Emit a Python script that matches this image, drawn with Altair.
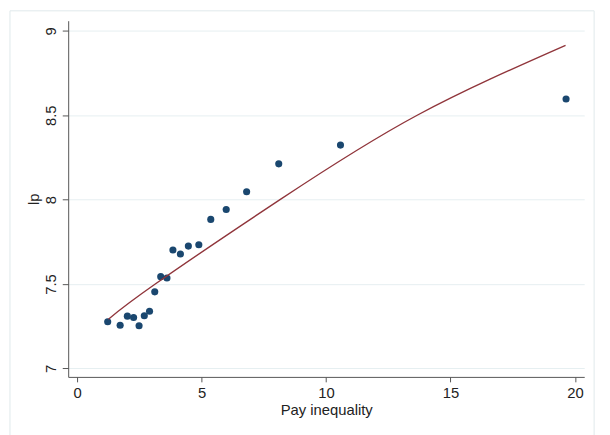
import altair as alt
import pandas as pd

# Scatter data
pay_inequality = [1.23, 1.73, 2.02, 2.27, 2.49, 2.70, 2.91, 3.12, 3.36, 3.61,
                  3.85, 4.15, 4.47, 4.89, 5.37, 5.99, 6.81, 8.10, 10.58, 19.64]
lp = [7.277, 7.256, 7.310, 7.302, 7.253, 7.312, 7.339, 7.454, 7.544, 7.536,
      7.702, 7.678, 7.725, 7.733, 7.883, 7.942, 8.047, 8.212, 8.323, 8.596]

# Fitted curve (end points and gridline crossings)
fit_x = [1.26, 3.14, 8.15, 13.66, 19.62]
fit_y = [7.292, 7.5, 8.0, 8.5, 8.914]

x_ticks = [0, 5, 10, 15, 20]
y_ticks = [7, 7.5, 8, 8.5, 9]

pts = pd.DataFrame({"x": pay_inequality, "y": lp})
fit = pd.DataFrame({"x": fit_x, "y": fit_y})

FONT = "Liberation Sans"

xscale = alt.Scale(domain=[-0.357, 20.37], nice=False, zero=False)
yscale = alt.Scale(domain=[6.95, 9.06], nice=False, zero=False)

xaxis = alt.Axis(values=x_ticks, title="Pay inequality", grid=False,
                 labelFontSize=15, titleFontSize=15, labelFont=FONT, titleFont=FONT,
                 labelColor="#222", titleColor="#222", titleFontWeight="normal",
                 domainColor="#555", tickColor="#555", tickSize=5, labelPadding=4,
                 titlePadding=2, labelFlush=False, format="d")
yaxis = alt.Axis(values=y_ticks, title="lp", grid=True, gridColor="#e6eff1",
                 labelFontSize=15, titleFontSize=15, labelFont=FONT, titleFont=FONT,
                 labelColor="#222", titleColor="#222", titleFontWeight="normal",
                 domainColor="#555", tickColor="#555", tickSize=6, labelPadding=4,
                 labelAngle=270, labelAlign="center", labelBaseline="bottom",
                 titlePadding=2, labelFlush=False, format=".1~f")

frame = alt.Chart(alt.Data(values=[{}])).mark_rect(
    fill=None, stroke="#dfe9eb", strokeWidth=1
).encode(
    x=alt.value(-59), x2=alt.value(533), y=alt.value(-10), y2=alt.value(425)
)

points = alt.Chart(pts).mark_circle(size=52, color="#1a476f", opacity=1).encode(
    x=alt.X("x:Q", scale=xscale, axis=xaxis),
    y=alt.Y("y:Q", scale=yscale, axis=yaxis),
)

line = alt.Chart(fit).mark_line(color="#90353b", strokeWidth=1.4,
                                interpolate="natural").encode(
    x=alt.X("x:Q", scale=xscale),
    y=alt.Y("y:Q", scale=yscale),
)

chart = alt.layer(frame, points, line).properties(
    width=523, height=361,
    autosize=alt.AutoSizeParams(type="none"),
    padding={"left": 61, "top": 10, "right": 18, "bottom": 56},
    background="white",
).configure_view(stroke=None)

chart.save("out.html", embed_options={"renderer": "svg", "actions": False})
